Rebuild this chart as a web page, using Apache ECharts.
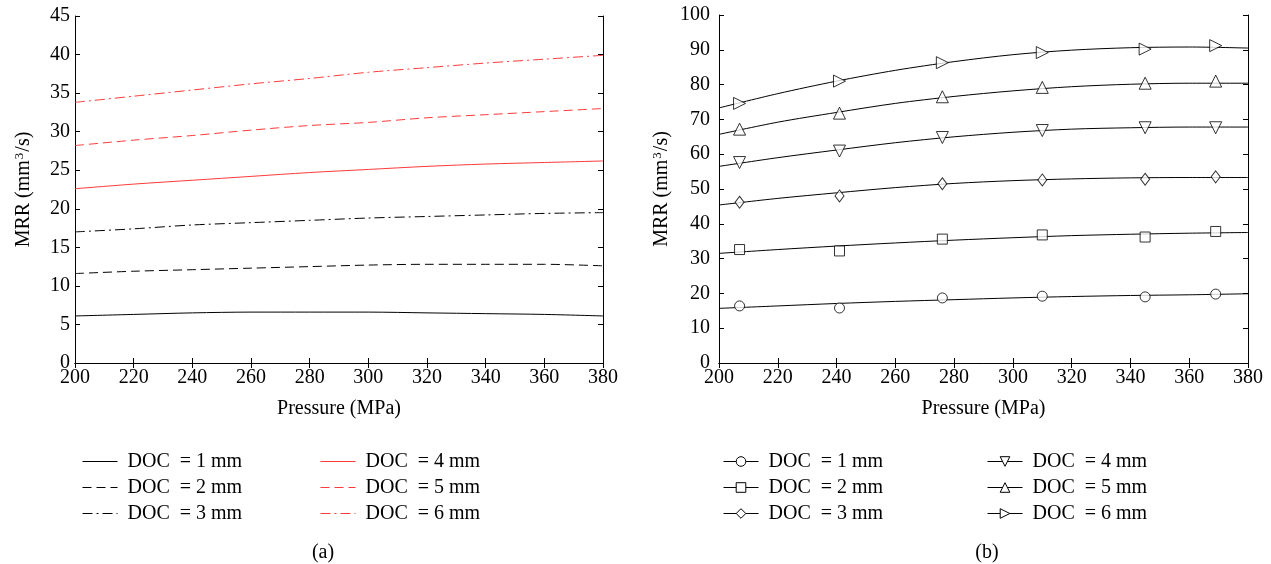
<!DOCTYPE html>
<html>
<head>
<meta charset="utf-8">
<title>MRR vs Pressure</title>
<script src="https://cdn.jsdelivr.net/npm/echarts@6/dist/echarts.min.js"></script>
<style>
  html, body { margin: 0; padding: 0; background: #fff; }
  #chart { width: 1271px; height: 564px; }
</style>
</head>
<body>
<div id="chart"></div>
<script>
// x values for the model curves (panel a) and fitted curves (panel b)
const pressure = [200, 220, 240, 260, 280, 300, 320, 340, 360, 380]
// measured pressures in panel (b)
const pressureExp = [207, 241, 276, 310, 345, 369]

const docLabels = ['DOC  = 1 mm', 'DOC  = 2 mm', 'DOC  = 3 mm', 'DOC  = 4 mm', 'DOC  = 5 mm', 'DOC  = 6 mm']

// panel (a): predicted MRR (mm3/s)
const mrrA1 = [6.1, 6.3, 6.5, 6.6, 6.6, 6.6, 6.5, 6.4, 6.3, 6.1]
const mrrA2 = [11.6, 11.9, 12.1, 12.3, 12.5, 12.7, 12.8, 12.8, 12.8, 12.6]
const mrrA3 = [17.0, 17.4, 17.9, 18.2, 18.5, 18.8, 19.0, 19.2, 19.4, 19.5]
const mrrA4 = [22.6, 23.2, 23.7, 24.2, 24.7, 25.1, 25.5, 25.8, 26.0, 26.2]
const mrrA5 = [28.2, 28.9, 29.5, 30.2, 30.8, 31.2, 31.8, 32.2, 32.6, 33.0]
const mrrA6 = [33.8, 34.6, 35.4, 36.2, 36.9, 37.7, 38.3, 38.9, 39.4, 39.9]

// panel (b): fitted curves
const fitB1 = [15.7, 16.4, 17.1, 17.7, 18.2, 18.7, 19.1, 19.4, 19.6, 19.9]
const fitB2 = [31.5, 32.6, 33.6, 34.5, 35.3, 36.0, 36.6, 37.0, 37.3, 37.5]
const fitB3 = [45.4, 47.3, 48.9, 50.4, 51.6, 52.4, 52.9, 53.2, 53.3, 53.3]
const fitB4 = [56.5, 59.0, 61.2, 63.3, 65.0, 66.3, 67.2, 67.6, 67.8, 67.8]
const fitB5 = [65.7, 69.2, 72.0, 74.6, 76.6, 78.2, 79.4, 80.1, 80.4, 80.4]
const fitB6 = [73.3, 77.4, 81.0, 84.1, 86.6, 88.6, 89.9, 90.6, 90.8, 90.5]

// panel (b): measured points
const expB1 = [16.4, 15.8, 18.7, 19.2, 19.0, 19.8]
const expB2 = [32.6, 32.2, 35.6, 36.8, 36.2, 37.8]
const expB3 = [46.2, 48.0, 51.5, 52.6, 52.8, 53.5]
const expB4 = [57.6, 60.9, 64.8, 66.8, 67.6, 67.6]
const expB5 = [67.2, 71.8, 76.5, 79.2, 80.4, 81.0]
const expB6 = [74.6, 81.0, 86.3, 89.2, 90.2, 91.2]

const FONT = '"Liberation Serif", "Times New Roman", serif'
const RED = '#ff3a3a'

const pairs = (xs, ys) => xs.map((x, i) => [x, ys[i]])

const chart = echarts.init(document.getElementById('chart'))

const makeAxes = (gridIndex, yMax, yInterval, yLabelMargin, yNameGap) => {
  const line = { show: true, lineStyle: { color: '#000', width: 1 } }
  const tick = { show: true, inside: true, length: 5, lineStyle: { color: '#000' } }
  const label = { color: '#000', fontFamily: FONT, fontSize: 20 }
  return {
    x: [
      {
        type: 'value', gridIndex, min: 200, max: 380, interval: 20, position: 'bottom',
        name: 'Pressure (MPa)', nameLocation: 'middle', nameGap: 36,
        nameTextStyle: { color: '#000', fontFamily: FONT, fontSize: 20 },
        axisLine: line, axisTick: tick, splitLine: { show: false },
        axisLabel: { ...label, margin: 5 },
      },
      {
        type: 'value', gridIndex, min: 200, max: 380, interval: 20, position: 'top',
        axisLine: line, axisTick: tick, splitLine: { show: false }, axisLabel: { show: false },
      },
    ],
    y: [
      {
        type: 'value', gridIndex, min: 0, max: yMax, interval: yInterval, position: 'left',
        name: 'MRR (mm{sup|3}/s)', nameLocation: 'middle', nameGap: yNameGap,
        nameTextStyle: {
          color: '#000', fontFamily: FONT, fontSize: 20,
          rich: { sup: { fontSize: 13, fontFamily: FONT, color: '#000', verticalAlign: 'top', padding: [0, 1, 9, 1] } },
        },
        axisLine: line, axisTick: tick, splitLine: { show: false },
        axisLabel: { ...label, margin: yLabelMargin },
      },
      {
        type: 'value', gridIndex, min: 0, max: yMax, interval: yInterval, position: 'right',
        axisLine: line, axisTick: tick, splitLine: { show: false }, axisLabel: { show: false },
      },
    ],
  }
}

const axA = makeAxes(0, 45, 5, 5, 40)
const axB = makeAxes(1, 100, 10, 9, 46)

// panel (a) line styles
const styleA = [
  { color: '#000', type: 'solid' },
  { color: '#000', type: [9, 5] },
  { color: '#000', type: [10, 4, 2, 4] },
  { color: RED, type: 'solid' },
  { color: RED, type: [9, 5] },
  { color: RED, type: [10, 4, 2, 4] },
]
const dataA = [mrrA1, mrrA2, mrrA3, mrrA4, mrrA5, mrrA6]
const namesA = docLabels.map((d) => 'a|' + d)

const seriesA = dataA.map((vals, i) => ({
  name: namesA[i],
  type: 'line',
  xAxisIndex: 0,
  yAxisIndex: 0,
  data: pairs(pressure, vals),
  symbol: 'none',
  smooth: 0.3,
  lineStyle: { width: 1, color: styleA[i].color, type: styleA[i].type },
  itemStyle: { color: styleA[i].color },
  silent: true,
}))

// panel (b) markers
const markB = [
  { symbol: 'circle', size: 10, rotate: 0 },
  { symbol: 'rect', size: 10, rotate: 0 },
  { symbol: 'diamond', size: [9, 12], rotate: 0 },
  { symbol: 'triangle', size: 12, rotate: 180 },
  { symbol: 'triangle', size: 12, rotate: 0 },
  { symbol: 'triangle', size: 12, rotate: -90 },
]
const fitB = [fitB1, fitB2, fitB3, fitB4, fitB5, fitB6]
const expB = [expB1, expB2, expB3, expB4, expB5, expB6]
const namesB = docLabels.map((d) => 'b|' + d)

const markerStyle = { color: '#fff', borderColor: '#000', borderWidth: 1 }

const seriesBFit = fitB.map((vals, i) => ({
  name: namesB[i],
  type: 'line',
  xAxisIndex: 2,
  yAxisIndex: 2,
  data: pairs(pressure, vals),
  symbol: markB[i].symbol,
  symbolSize: markB[i].size,
  symbolRotate: markB[i].rotate,
  showSymbol: false,
  smooth: 0.3,
  lineStyle: { width: 1, color: '#000' },
  itemStyle: markerStyle,
  silent: true,
}))

const seriesBExp = expB.map((vals, i) => ({
  name: namesB[i],
  type: 'scatter',
  xAxisIndex: 2,
  yAxisIndex: 2,
  data: pairs(pressureExp, vals),
  symbol: markB[i].symbol,
  symbolSize: markB[i].size,
  symbolRotate: markB[i].rotate,
  itemStyle: markerStyle,
  z: 3,
  silent: true,
}))

const legendBase = {
  orient: 'vertical',
  top: 446,
  itemWidth: 35,
  itemHeight: 12,
  itemGap: 5,
  selectedMode: false,
  formatter: (name) => ' ' + name.slice(2),
  textStyle: { color: '#000', fontFamily: FONT, fontSize: 20, lineHeight: 21 },
}
const legendA = {
  ...legendBase,
  itemStyle: { opacity: 0 },
  lineStyle: { width: 1 },
}
const legendB = {
  ...legendBase,
  itemStyle: { color: '#fff', borderColor: '#000', borderWidth: 1 },
  lineStyle: { color: '#000', width: 1 },
}

const captionStyle = { color: '#000', fontFamily: FONT, fontSize: 20, fontWeight: 'normal' }

const option = {
  backgroundColor: '#fff',
  animation: false,
  title: [
    { text: '(a)', left: 318, top: 538, textAlign: 'center', textStyle: captionStyle },
    { text: '(b)', left: 982, top: 538, textAlign: 'center', textStyle: captionStyle },
  ],
  legend: [
    { ...legendA, left: 77, data: namesA.slice(0, 3) },
    { ...legendA, left: 315, data: namesA.slice(3) },
    { ...legendB, left: 718, data: namesB.slice(0, 3) },
    { ...legendB, left: 982, data: namesB.slice(3) },
  ],
  grid: [
    { left: 75, right: 668, top: 16, bottom: 201 },
    { left: 719, right: 23, top: 15, bottom: 201 },
  ],
  xAxis: [...axA.x, ...axB.x],
  yAxis: [...axA.y, ...axB.y],
  series: [...seriesA, ...seriesBFit, ...seriesBExp],
}

chart.setOption(option)
window.addEventListener('resize', () => chart.resize())
</script>
</body>
</html>
